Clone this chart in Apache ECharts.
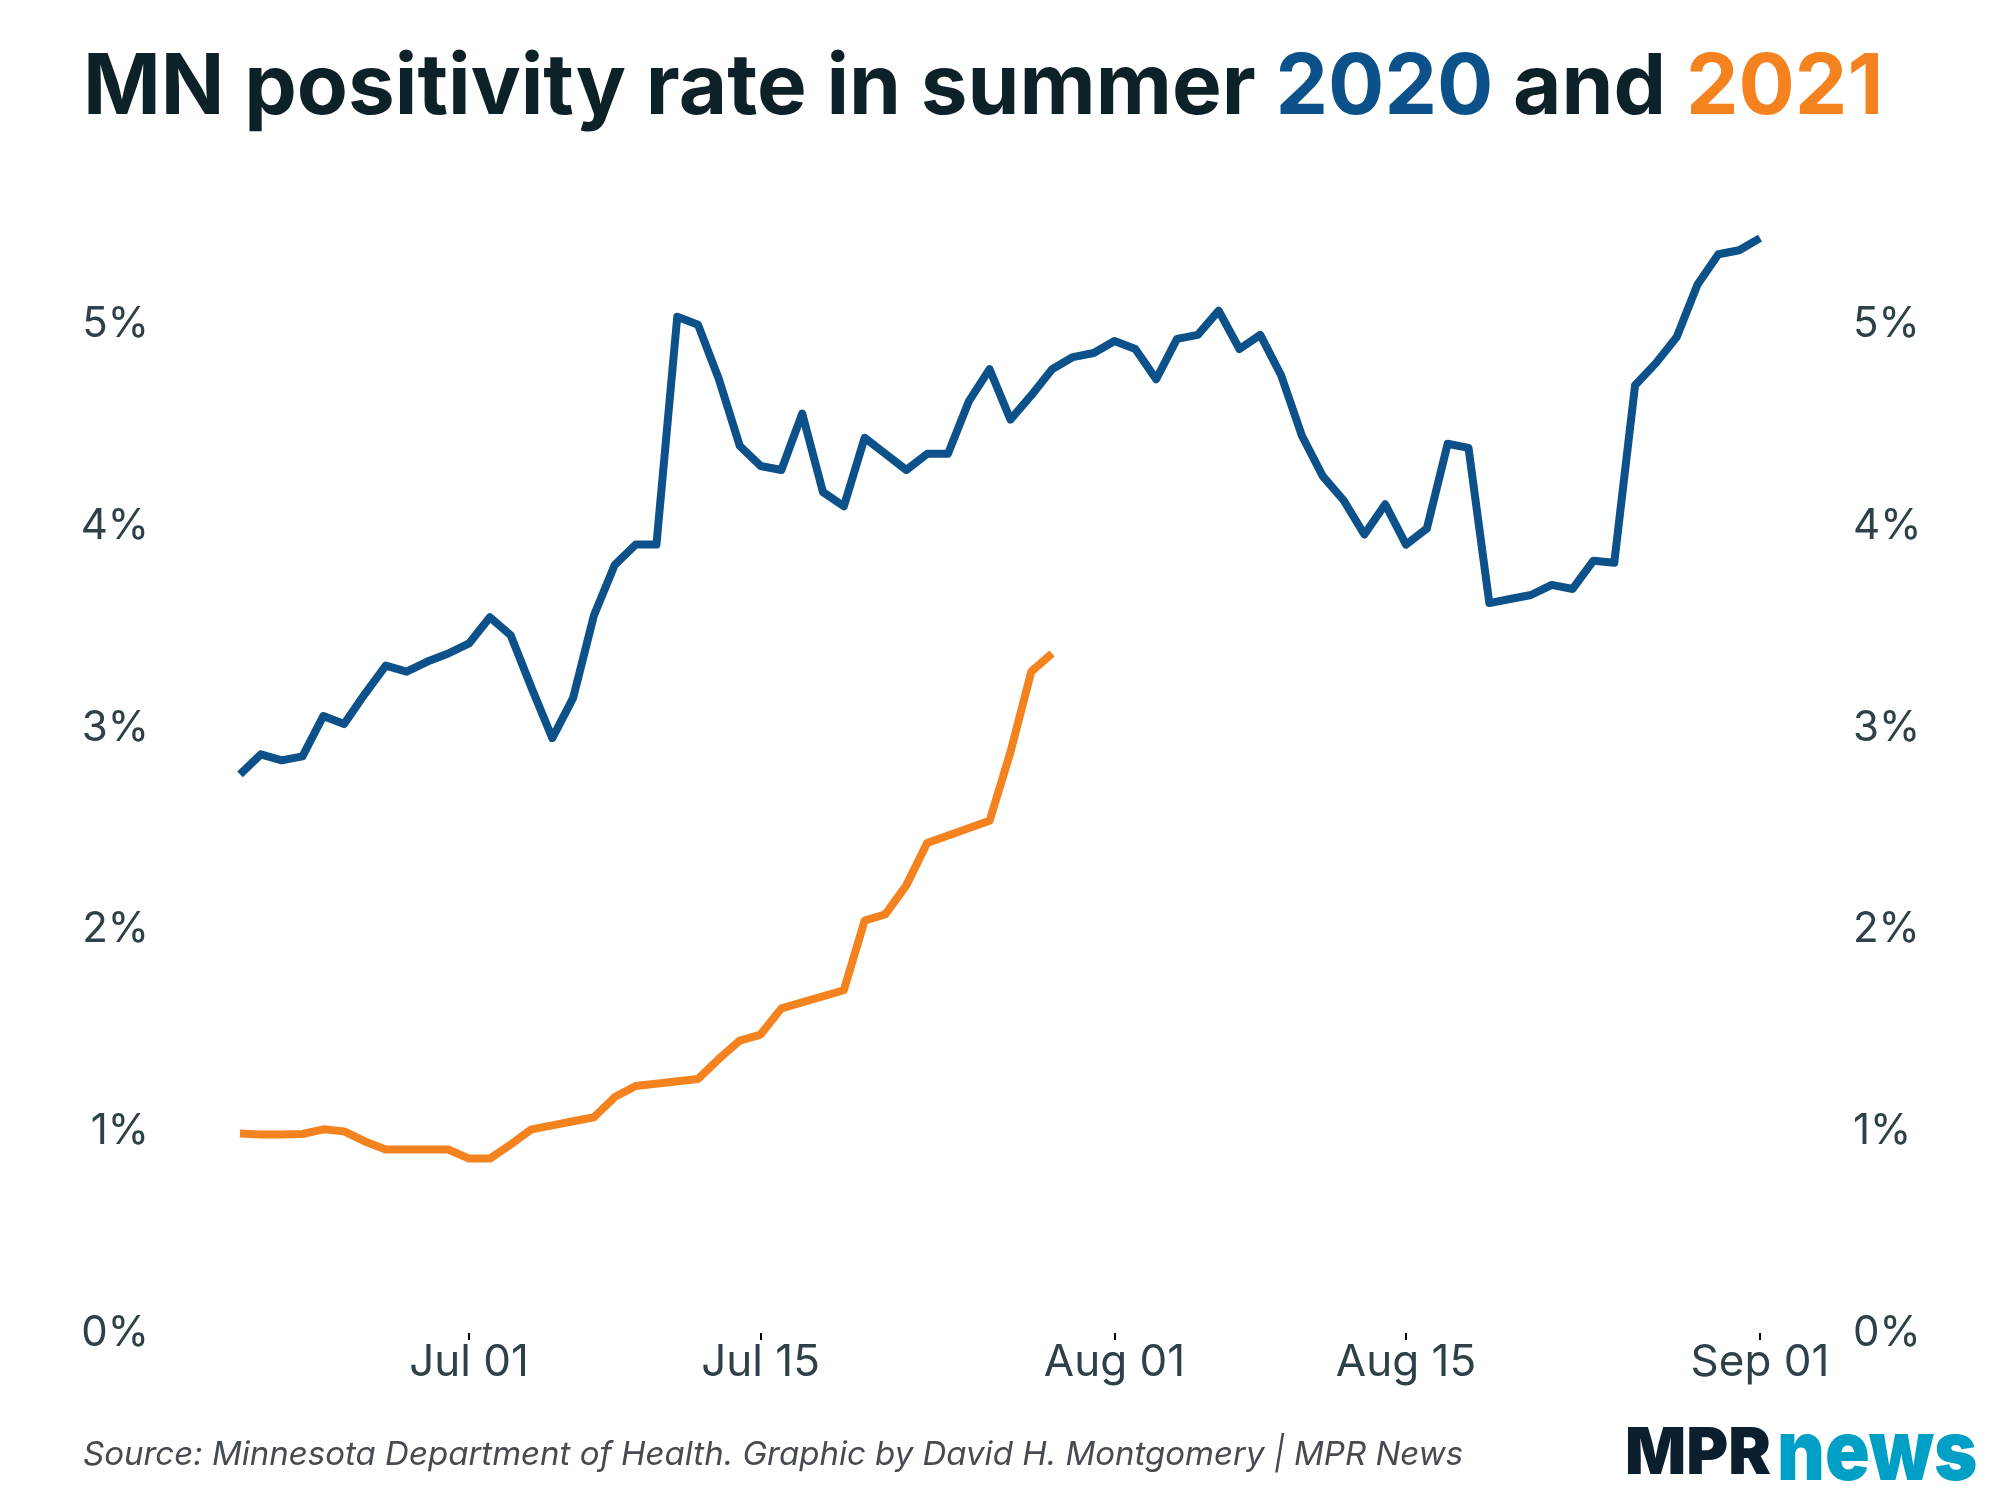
<!DOCTYPE html>
<html><head><meta charset="utf-8">
<script src="https://cdn.jsdelivr.net/npm/echarts@6/dist/echarts.min.js"></script>
<style>html,body{margin:0;padding:0;background:#fff}#c{width:2000px;height:1500px}</style>
</head><body><div id="c"></div>
<script>
const dates = [
 'Jun 20','Jun 21','Jun 22','Jun 23','Jun 24','Jun 25','Jun 26','Jun 27','Jun 28','Jun 29','Jun 30',
 'Jul 01','Jul 02','Jul 03','Jul 04','Jul 05','Jul 06','Jul 07','Jul 08','Jul 09','Jul 10',
 'Jul 11','Jul 12','Jul 13','Jul 14','Jul 15','Jul 16','Jul 17','Jul 18','Jul 19','Jul 20',
 'Jul 21','Jul 22','Jul 23','Jul 24','Jul 25','Jul 26','Jul 27','Jul 28','Jul 29','Jul 30','Jul 31',
 'Aug 01','Aug 02','Aug 03','Aug 04','Aug 05','Aug 06','Aug 07','Aug 08','Aug 09','Aug 10',
 'Aug 11','Aug 12','Aug 13','Aug 14','Aug 15','Aug 16','Aug 17','Aug 18','Aug 19','Aug 20',
 'Aug 21','Aug 22','Aug 23','Aug 24','Aug 25','Aug 26','Aug 27','Aug 28','Aug 29','Aug 30','Aug 31',
 'Sep 01'
];
const tickLabels = ['Jul 01','Jul 15','Aug 01','Aug 15','Sep 01'];
const yTicks = [0,1,2,3,4,5];

// 2020 positivity rate (%)
const rate2020 = [
 2.77,2.87,2.84,2.86,3.06,3.02,3.17,3.31,3.28,3.33,
 3.37,3.42,3.55,3.46,3.20,2.95,3.15,3.56,3.81,3.91,
 3.91,5.04,5.00,4.73,4.40,4.30,4.28,4.56,4.17,4.10,
 4.44,4.36,4.28,4.36,4.36,4.62,4.78,4.53,4.65,4.78,
 4.84,4.86,4.92,4.88,4.73,4.93,4.95,5.07,4.88,4.95,
 4.75,4.45,4.25,4.13,3.96,4.11,3.91,3.99,4.41,4.39,
 3.62,3.64,3.66,3.71,3.69,3.83,3.82,4.70,4.81,4.94,
 5.20,5.35,5.37,5.43
];
// 2021 positivity rate (%), no data on some weekend days
const rate2021 = [
 0.99,0.985,0.985,0.987,1.01,1.00,0.95,0.91,0.91,0.91,
 0.91,0.865,0.865,0.935,1.01,1.03,1.05,1.07,1.17,1.225,
 null,null,1.26,1.36,1.45,1.48,1.61,null,null,1.70,
 2.045,2.077,2.22,2.43,null,null,2.54,2.88,3.28,3.37
];

const COL_TITLE = '#0c2228';
const COL_2020 = '#0c5189';
const COL_2021 = '#f4821f';
const COL_LABEL = '#2e4149';
const FONT = 'Inter';

const chart = echarts.init(document.getElementById('c'), null, {renderer:'canvas'});
const showTick = (i, v) => tickLabels.includes(v);
const yLabel = {
  fontSize: 42, fontFamily: FONT, color: COL_LABEL,
  formatter: v => yTicks.includes(v) ? v + '%' : ''
};
chart.setOption({
  animation: false,
  backgroundColor: '#ffffff',
  grid: {left: 240, right: 240, top: 224, bottom: 167},
  xAxis: {
    type: 'category', data: dates, boundaryGap: false,
    axisLine: {show: false},
    axisTick: {show: true, interval: showTick, length: 7, lineStyle: {color: '#000', width: 2}},
    axisLabel: {interval: showTick, margin: 8, fontSize: 44, fontFamily: FONT, color: COL_LABEL},
    splitLine: {show: false}
  },
  yAxis: [
    {type: 'value', position: 'left', min: 0, max: 5.5, interval: 1,
     axisLine: {show: false}, axisTick: {show: false}, splitLine: {show: false},
     axisLabel: Object.assign({margin: 91}, yLabel)},
    {type: 'value', position: 'right', min: 0, max: 5.5, interval: 1,
     axisLine: {show: false}, axisTick: {show: false}, splitLine: {show: false},
     axisLabel: Object.assign({margin: 93}, yLabel)}
  ],
  series: [
    {name: '2021', type: 'line', data: rate2021, connectNulls: true, showSymbol: false, symbol: 'none',
     lineStyle: {color: COL_2021, width: 8, join: 'round', cap: 'butt'}, silent: true},
    {name: '2020', type: 'line', data: rate2020, showSymbol: false, symbol: 'none',
     lineStyle: {color: COL_2020, width: 8, join: 'round', cap: 'butt'}, silent: true}
  ],
  graphic: [
    {type: 'text', x: 83, y: 89, silent: true,
     style: {
       text: 'MN positivity rate in summer {a|2020} and {b|2021}',
       font: 'bold 83.5px Inter', fill: COL_TITLE,
       textVerticalAlign: 'middle', verticalAlign: 'middle',
       rich: {
         a: {fill: COL_2020, color: COL_2020, fontSize: 83.5, fontWeight: 'bold', fontFamily: FONT},
         b: {fill: COL_2021, color: COL_2021, fontSize: 83.5, fontWeight: 'bold', fontFamily: FONT}
       }
     }},
    {type: 'text', x: 83, y: 1455, silent: true,
     style: {
       text: 'Source: Minnesota Department of Health. Graphic by David H. Montgomery | MPR News',
       font: 'italic 33px Inter', fill: '#464b52',
       textVerticalAlign: 'middle', verticalAlign: 'middle'
     }},
    {type: 'text', x: 1625, y: 1455, silent: true,
     style: {text: 'MPR', font: '900 64px Inter', fill: '#0b1f2e',
       textVerticalAlign: 'middle', verticalAlign: 'middle'}},
    {type: 'text', x: 1777, y: 1455, scaleX: 0.88, silent: true,
     style: {text: 'news', font: '900 84px Inter', fill: '#009fc6',
       textVerticalAlign: 'middle', verticalAlign: 'middle'}}
  ]
});
</script>
</body></html>
